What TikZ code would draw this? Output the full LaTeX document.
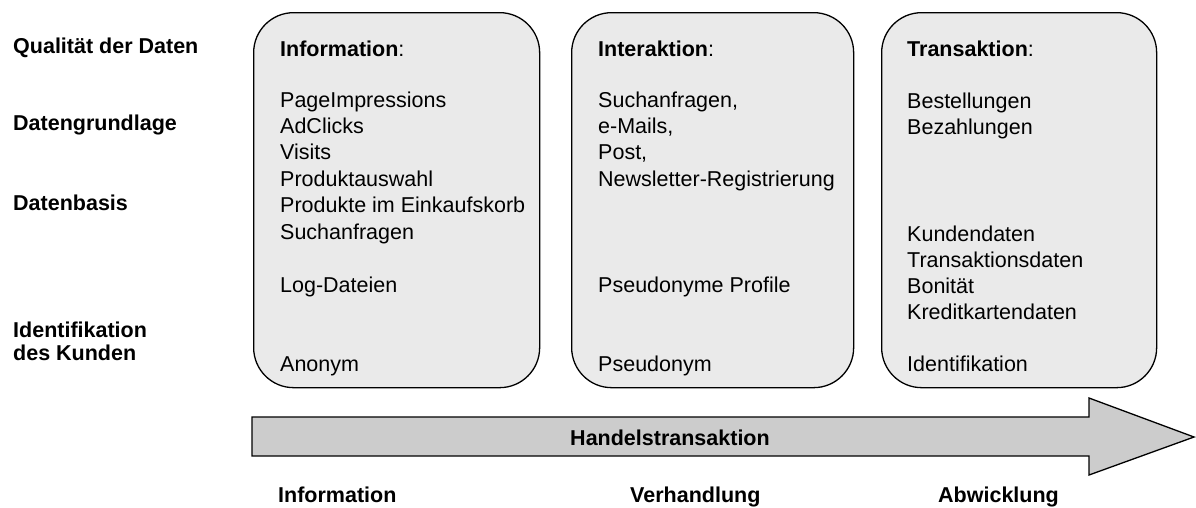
\documentclass[tikz,border=0pt]{standalone}
\usepackage{fontspec}
\setmainfont{Liberation Sans}
\definecolor{phasefill}{HTML}{EAEAEA}
\definecolor{arrowfill}{HTML}{CCCCCC}
\begin{document}
\begin{tikzpicture}[x=1pt,y=-1pt,
  phase/.style={draw=black, line width=1.3pt, fill=phasefill,
    rounded corners=40pt, anchor=north west, inner sep=0pt},
  txt/.style={anchor=base west, inner sep=0pt,
    font=\fontsize{21.5pt}{26.3pt}\selectfont},
  head/.style={txt, font=\fontsize{21.5pt}{26.3pt}\selectfont\bfseries}
]
\useasboundingbox (0,0) rectangle (1196,507);

% three phase boxes
\node[phase, minimum width=286pt, minimum height=375pt] (info) at (253,12) {};
\node[phase, minimum width=282pt, minimum height=375pt] (inter) at (571,12) {};
\node[phase, minimum width=275pt, minimum height=375pt] (trans) at (881,12) {};

% transaction arrow
\draw[line width=1.3pt, fill=arrowfill, line join=miter]
  (252,417) -- (1089,417) -- (1089,398) -- (1194,437)
  -- (1089,475) -- (1089,456) -- (252,456) -- cycle;
\node[head, anchor=base] (handel) at (670,445) {Handelstransaktion};

% row labels
\node[head] (quali) at (13,53) {Qualität der Daten};
\node[head] (grund) at (13,130) {Datengrundlage};
\node[head] (basis) at (13,210) {Datenbasis};
\node[head] (ident1) at (13,337) {Identifikation};
\node[head] (ident2) at (13,360) {des Kunden};

% phase labels below the arrow
\node[head] (ph1) at (278,502) {Information};
\node[head] (ph2) at (630,502) {Verhandlung};
\node[head] (ph3) at (938,502) {Abwicklung};

% box 1: information
\node[txt] (infoh) at (280,56) {\textbf{Information}:};
\foreach \t [count=\k] in {PageImpressions, AdClicks, Visits, Produktauswahl,
    Produkte im Einkaufskorb, Suchanfragen}
  \node[txt] (infol\k) at (280,{107+26.4*(\k-1)}) {\t};
\node[txt] (infolog) at (280,292) {Log-Dateien};
\node[txt] (infoid) at (280,371) {Anonym};

% box 2: interaction
\node[txt] (interh) at (598,56) {\textbf{Interaktion}:};
\foreach \t [count=\k] in {{Suchanfragen,}, {e-Mails,}, {Post,},
    Newsletter-Registrierung}
  \node[txt] (interl\k) at (598,{107+26.4*(\k-1)}) {\t};
\node[txt] (interprof) at (598,292) {Pseudonyme Profile};
\node[txt] (interid) at (598,371) {Pseudonym};

% box 3: transaction
\node[txt] (transh) at (907,56) {\textbf{Transaktion}:};
\foreach \t [count=\k] in {Bestellungen, Bezahlungen}
  \node[txt] (transl\k) at (907,{108+26.4*(\k-1)}) {\t};
\foreach \t [count=\k] in {Kundendaten, Transaktionsdaten, Bonität,
    Kreditkartendaten}
  \node[txt] (transd\k) at (907,{241+26.3*(\k-1)}) {\t};
\node[txt] (transid) at (907,371) {Identifikation};
\end{tikzpicture}
\end{document}
